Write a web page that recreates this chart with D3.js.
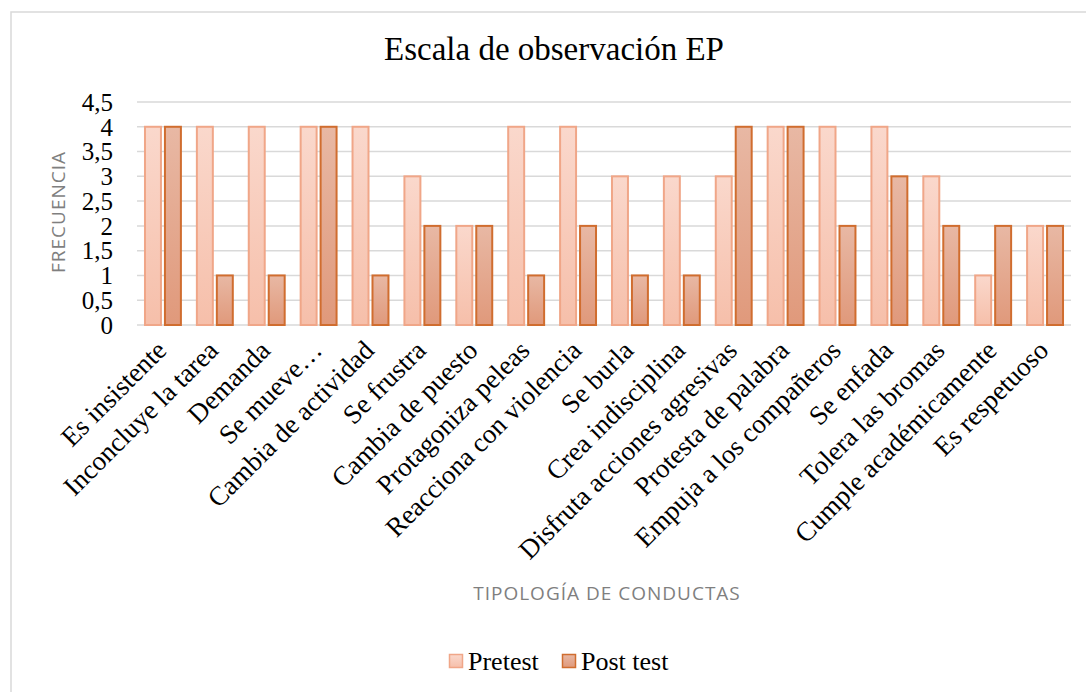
<!DOCTYPE html>
<html><head><meta charset="utf-8">
<script src="https://cdn.jsdelivr.net/npm/d3@7"></script>
<style>html,body{margin:0;padding:0;background:#fff;}svg{display:block;}</style>
</head><body>
<svg id="chart" width="1086" height="692"></svg>
<script>
const categories = ["Es insistente","Inconcluye la tarea","Demanda","Se mueve…","Cambia de actividad","Se frustra","Cambia de puesto","Protagoniza peleas","Reacciona con violencia","Se burla","Crea indisciplina","Disfruta acciones agresivas","Protesta de palabra","Empuja a los compañeros","Se enfada","Tolera las bromas","Cumple académicamente","Es respetuoso"];
const pretest  = [4,4,4,4,4,3,2,4,4,3,3,3,4,4,4,3,1,2];
const posttest = [4,1,1,4,1,2,2,1,2,1,1,4,4,2,3,2,2,2];
const seriesNames = ["Pretest","Post test"];
const yTickValues = [0,0.5,1,1.5,2,2.5,3,3.5,4,4.5];
const yTickLabels = ["0","0,5","1","1,5","2","2,5","3","3,5","4","4,5"];
const title = "Escala de observación EP";
const xTitle = "TIPOLOGÍA DE CONDUCTAS";
const yTitle = "FRECUENCIA";

const svg = d3.select("#chart");
const serif = "'Liberation Serif','Times New Roman',serif";
const sans = "'Open Sans','Noto Sans',sans-serif";

// frame
svg.append("rect").attr("x",11).attr("y",12).attr("width",1100).attr("height",700)
  .attr("fill","#fff").attr("stroke","#d9d9d9").attr("stroke-width",1.5);

const defs = svg.append("defs");
const grads = [
  {id:"gPre", top:"#fad8cc", bot:"#f6bfaa"},
  {id:"gPost", top:"#e8b8a4", bot:"#e0997b"}
];
grads.forEach(g=>{
  const lg = defs.append("linearGradient").attr("id",g.id).attr("x1",0).attr("y1",0).attr("x2",0).attr("y2",1);
  lg.append("stop").attr("offset","0%").attr("stop-color",g.top);
  lg.append("stop").attr("offset","100%").attr("stop-color",g.bot);
});
const fills = ["url(#gPre)","url(#gPost)"];
const strokes = ["#f0a688","#d06d2f"];

const x0 = d3.scaleBand().domain(categories).range([137,1071]).paddingInner(0).paddingOuter(0);
const x1 = d3.scaleBand().domain(seriesNames).range([0,x0.bandwidth()]).paddingInner(0.2).paddingOuter(0.4);
const y = d3.scaleLinear().domain([0,4.5]).range([325,102]);

// gridlines
svg.append("g").selectAll("line").data(yTickValues).join("line")
  .attr("x1",137).attr("x2",1071)
  .attr("y1",d=>y(d)).attr("y2",d=>y(d))
  .attr("stroke","#d9d9d9").attr("stroke-width",1.5);

// y axis labels
const yAxis = d3.axisLeft(y).tickValues(yTickValues).tickFormat((d,i)=>yTickLabels[i]).tickSize(0).tickPadding(0);
const ya = svg.append("g").attr("transform","translate(113,0)").call(yAxis);
ya.attr("font-family",null).attr("font-size",null);
ya.select(".domain").remove();
ya.selectAll("text").style("font-family",serif).style("font-size","25px").attr("fill","#000").attr("dy","0.33em");

// bars
const data = categories.map((c,i)=>({c, vals:[pretest[i],posttest[i]]}));
const groups = svg.append("g").selectAll("g").data(data).join("g")
  .attr("transform",d=>`translate(${x0(d.c)},0)`);
groups.selectAll("rect").data(d=>d.vals.map((v,j)=>({v,s:seriesNames[j],j}))).join("rect")
  .attr("x",d=>x1(d.s)).attr("width",x1.bandwidth())
  .attr("y",d=>y(d.v)).attr("height",d=>y(0)-y(d.v))
  .attr("fill",d=>fills[d.j]).attr("stroke",d=>strokes[d.j]).attr("stroke-width",2);

// x labels
const xAxis = d3.axisBottom(x0).tickSize(0).tickPadding(0);
const xa = svg.append("g").attr("transform","translate(0,352)").call(xAxis);
xa.attr("font-family",null).attr("font-size",null);
xa.select(".domain").remove();
xa.selectAll("text").style("font-family",serif).style("font-size","27px").attr("fill","#000")
  .attr("text-anchor","end").attr("y",0).attr("dy","0").attr("transform","translate(5,0) rotate(-45)");

// title
svg.append("text").attr("x",554).attr("y",60).attr("text-anchor","middle")
  .style("font-family",serif).style("font-size","33px").attr("fill","#000").text(title);

// axis titles
svg.append("text").attr("x",607).attr("y",600).attr("text-anchor","middle")
  .style("font-family",sans).style("font-size","19px").style("letter-spacing","1px").attr("fill","#7f7f7f").text(xTitle);
svg.append("text").attr("transform","translate(65,212) rotate(-90)").attr("text-anchor","middle")
  .style("font-family",sans).style("font-size","19px").style("letter-spacing","1px").attr("fill","#7f7f7f").text(yTitle);

// legend
const legX = [449,562];
const leg = svg.append("g").selectAll("g").data(seriesNames).join("g")
  .attr("transform",(d,i)=>`translate(${legX[i]},654)`);
leg.append("rect").attr("x",0.5).attr("y",0.5).attr("width",13).attr("height",13)
  .attr("fill",(d,i)=>fills[i]).attr("stroke",(d,i)=>strokes[i]).attr("stroke-width",1.5);
leg.append("text").attr("x",19).attr("y",16).style("font-family",serif).style("font-size","26px")
  .attr("fill","#000").text(d=>d);
</script>
</body></html>
